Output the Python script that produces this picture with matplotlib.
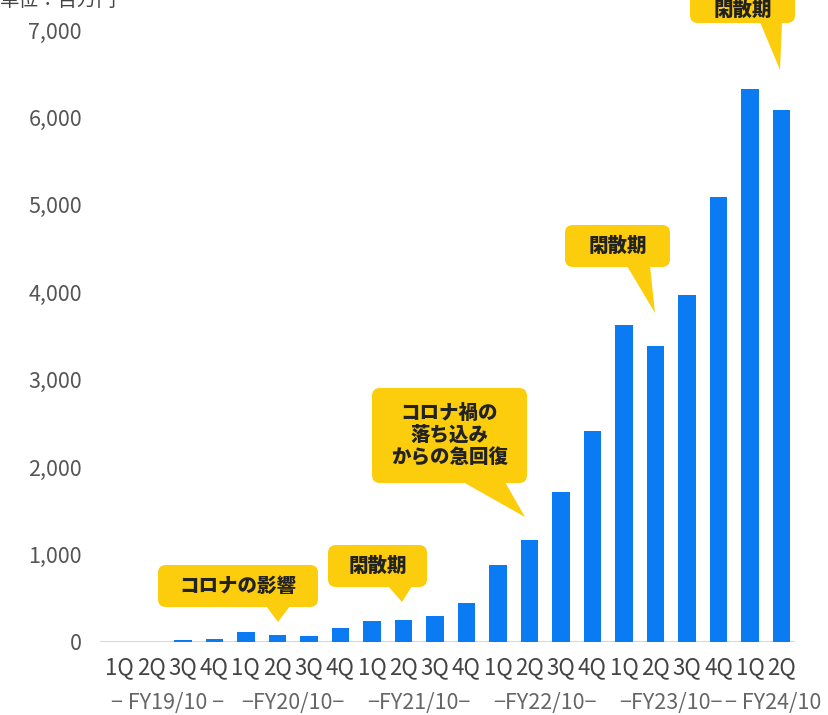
import matplotlib
matplotlib.use("Agg")
import matplotlib.pyplot as plt
import matplotlib.transforms as mtransforms
from matplotlib.patches import FancyBboxPatch, Polygon

plt.rcParams['font.family'] = ['Noto Sans CJK JP', 'DejaVu Sans']

# quarterly values (million yen), FY19/10 1Q .. FY24/10 2Q
quarters = ['1Q', '2Q', '3Q', '4Q'] * 5 + ['1Q', '2Q']
values = [0, 0, 25, 40, 120, 85, 65, 165,
          240, 255, 295, 450,
          880, 1170, 1720, 2410,
          3630, 3380, 3970, 5090,
          6320, 6090]
fy_labels = ['− FY19/10 −', '−FY20/10−', '−FY21/10−', '−FY22/10−', '−FY23/10−', '− FY24/10']
fy_centers = [1.5, 5.5, 9.5, 13.5, 17.5, 20.75]
yticks = [0, 1000, 2000, 3000, 4000, 5000, 6000, 7000]

# callouts: text, box (left, top, right, bottom) px, tail (base_l, base_r, tip_x, tip_y) px
callouts = [
    ('コロナの影響', (158, 565, 318, 607), (266, 290, 278, 622)),
    ('閑散期', (328, 545, 427, 587), (388, 412, 402, 602)),
    ('コロナ禍の\n落ち込み\nからの急回復', (372, 388, 527, 483), (463, 505, 525, 517)),
    ('閑散期', (565, 225, 670, 267), (627, 650, 655, 313)),
    ('閑散期', (690, -25, 795, 23), (760, 782, 780, 70)),
]

W, H = 829, 715
fig = plt.figure(figsize=(W / 100, H / 100), dpi=100)
ax = fig.add_axes([100 / W, 1 - 642 / H, 695 / W, 612 / H])

x = list(range(len(values)))
ax.bar(x, values, width=0.55, color='#0b7bf4', zorder=2)
ax.set_xlim(-0.63, 21.43)
ax.set_ylim(0, 7000)
ax.axhline(0, color='#cfcfcf', lw=1.2, zorder=1)
for s in ax.spines.values():
    s.set_visible(False)
ax.set_yticks(yticks)
ax.set_yticklabels([f'{v:,}' for v in yticks], fontsize=15.5, color='#555555')
ax.tick_params(axis='y', length=0, pad=13)
ax.set_xticks(x)
ax.set_xticklabels(quarters, fontsize=16, color='#444444')
ax.tick_params(axis='x', length=0, pad=10)

for c, lab in zip(fy_centers, fy_labels):
    ax.text(c, -0.1, lab, transform=ax.get_xaxis_transform(), ha='center', va='center',
            fontsize=15.5, color='#666666')

fig.text(0.0, 1.0, '単位：百万円', ha='left', va='center', fontsize=14, color='#444444')

# pixel transform (top-left origin)
px = mtransforms.Affine2D().scale(1 / W, -1 / H).translate(0, 1) + fig.transFigure
yellow = '#fbcd0c'
for text, (l, t, r, b), (bl, br, tx, ty) in callouts:
    box = FancyBboxPatch((l, t), r - l, b - t, boxstyle='round,pad=0,rounding_size=8',
                         transform=px, fc=yellow, ec='none', zorder=5, clip_on=False)
    fig.add_artist(box)
    tail = Polygon([(bl, b - 1), (br, b - 1), (tx, ty)], closed=True, transform=px,
                   fc=yellow, ec='none', zorder=5, clip_on=False)
    fig.add_artist(tail)
    fig.text((l + r) / 2 / W, 1 - (max(t, -3) + b) / 2 / H, text, ha='center', va='center',
             fontsize=14, fontweight='heavy', color='#222222', linespacing=1.2, zorder=6)

fig.savefig('out.png', dpi=100)
